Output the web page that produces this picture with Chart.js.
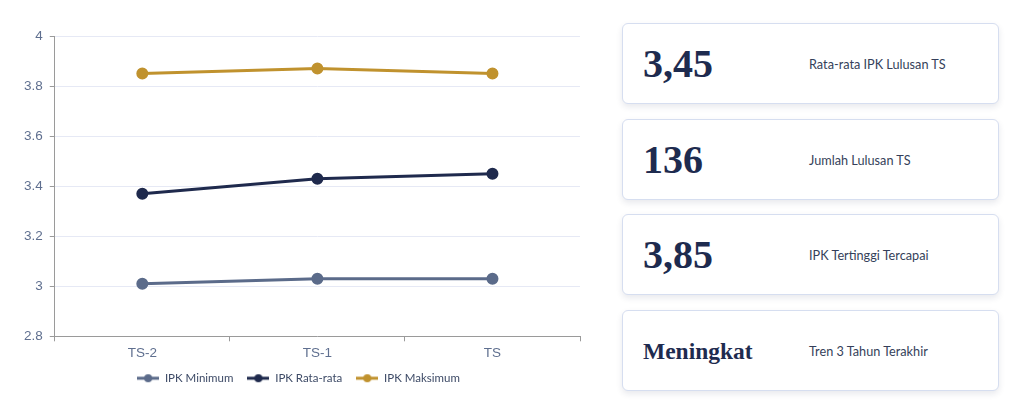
<!DOCTYPE html>
<html lang="id">
<head>
    <meta charset="UTF-8">
    <title>IPK Lulusan</title>
    <script src="https://cdn.jsdelivr.net/npm/chart.js"></script>
    <style>
        body {
            margin: 0;
            background: #ffffff;
            width: 1024px;
            height: 416px;
            position: relative;
            overflow: hidden;
        }

        #chart-box {
            position: absolute;
            left: 0;
            top: 0;
            width: 600px;
            height: 416px;
        }

        .card {
            position: absolute;
            left: 622px;
            width: 377px;
            height: 81px;
            box-sizing: border-box;
            border: 1px solid #d6def0;
            border-radius: 6px;
            background: #fff;
            box-shadow: 0 3px 6px rgba(30, 43, 79, 0.10);
        }

        .card .value {
            position: absolute;
            left: 20px;
            top: 0;
            line-height: 80px;
            font-family: 'Liberation Serif', serif;
            font-weight: bold;
            font-size: 40px;
            color: #1e2b4f;
        }

        .card .value.word {
            font-size: 23.5px;
        }

        .card .label {
            position: absolute;
            left: 186px;
            top: 0;
            line-height: 80px;
            font-family: Lato, sans-serif;
            font-size: 12.7px;
            color: #353f5a;
        }
    </style>
</head>
<body>
    <div id="chart-box">
        <canvas id="ipk-chart"></canvas>
    </div>

    <div class="card" style="top:23px"><div class="value">3,45</div><div class="label">Rata-rata IPK Lulusan TS</div></div>
    <div class="card" style="top:119px"><div class="value">136</div><div class="label">Jumlah Lulusan TS</div></div>
    <div class="card" style="top:214px"><div class="value">3,85</div><div class="label">IPK Tertinggi Tercapai</div></div>
    <div class="card" style="top:310px"><div class="value word">Meningkat</div><div class="label">Tren 3 Tahun Terakhir</div></div>

    <script>
        // chart data
        const years = ['TS-2', 'TS-1', 'TS'];
        const ipkMin = [3.01, 3.03, 3.03];
        const ipkAvg = [3.37, 3.43, 3.45];
        const ipkMax = [3.85, 3.87, 3.85];

        const colMin = '#5b6b8a';
        const colAvg = '#1f2a4d';
        const colMax = '#c0922e';

        // little line + dot icon for the legend
        function legendIcon(color) {
            const c = document.createElement('canvas');
            c.width = 22;
            c.height = 10;
            const g = c.getContext('2d');
            g.strokeStyle = color;
            g.lineWidth = 3;
            g.beginPath();
            g.moveTo(0, 5);
            g.lineTo(22, 5);
            g.stroke();
            g.fillStyle = color;
            g.beginPath();
            g.arc(11, 5, 4, 0, Math.PI * 2);
            g.fill();
            return c;
        }

        function makeSet(label, data, color) {
            return {
                label: label,
                data: data,
                borderColor: color,
                backgroundColor: color,
                borderWidth: 3,
                pointRadius: 4.5,
                pointHoverRadius: 5,
                tension: 0
            };
        }

        const chart = new Chart(document.getElementById('ipk-chart'), {
            type: 'line',
            data: {
                labels: years,
                datasets: [
                    makeSet('IPK Minimum', ipkMin, colMin),
                    makeSet('IPK Rata-rata', ipkAvg, colAvg),
                    makeSet('IPK Maksimum', ipkMax, colMax)
                ]
            },
            options: {
                responsive: true,
                maintainAspectRatio: false,
                animation: false,
                layout: { padding: { left: 17, right: 20, top: 36, bottom: 22 } },
                scales: {
                    x: {
                        offset: true,
                        grid: {
                            offset: true,
                            drawOnChartArea: false,
                            drawTicks: true,
                            tickLength: 5,
                            color: '#9a9a9a'
                        },
                        border: { color: '#9a9a9a', width: 1 },
                        ticks: {
                            color: '#5f6f8f',
                            font: { family: 'Liberation Sans', size: 13.5 },
                            padding: 4
                        },
                        // pull the axis down toward the legend
                        afterFit: function (scale) { scale.height -= 7; }
                    },
                    y: {
                        min: 2.8,
                        max: 4,
                        grid: {
                            color: '#e6e9f5',
                            tickColor: '#9a9a9a',
                            tickLength: 5
                        },
                        border: { color: '#9a9a9a', width: 1 },
                        ticks: {
                            stepSize: 0.2,
                            color: '#5f6f8f',
                            font: { family: 'Liberation Sans', size: 13.5 },
                            padding: 7,
                            callback: function (v) { return Math.round(v * 10) / 10; }
                        }
                    }
                },
                plugins: {
                    tooltip: { enabled: false },
                    legend: {
                        position: 'bottom',
                        labels: {
                            usePointStyle: true,
                            pointStyleWidth: 22,
                            padding: 14,
                            color: '#3d4a66',
                            font: { family: 'Lato', size: 11.5 },
                            generateLabels: function (ch) {
                                return ch.data.datasets.map(function (ds, i) {
                                    return {
                                        text: ds.label,
                                        pointStyle: legendIcon(ds.borderColor),
                                        fillStyle: ds.borderColor,
                                        strokeStyle: ds.borderColor,
                                        fontColor: '#3d4a66',
                                        lineWidth: 0,
                                        datasetIndex: i
                                    };
                                });
                            }
                        }
                    }
                }
            }
        });
    </script>
</body>
</html>
